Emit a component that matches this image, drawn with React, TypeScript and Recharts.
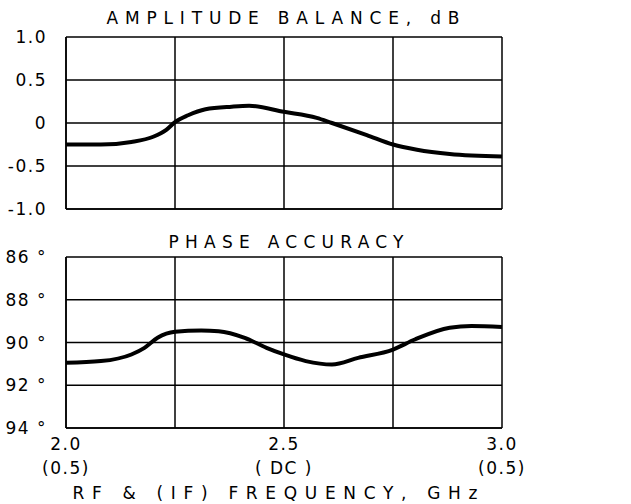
import React from "react"
import { LineChart, Line, XAxis, YAxis, CartesianGrid } from "recharts"

// amplitude balance (dB) vs frequency (GHz)
const AMP_FREQ = [2.0, 2.08, 2.15, 2.2, 2.23, 2.25, 2.28, 2.32, 2.38, 2.42, 2.5, 2.575, 2.61, 2.69, 2.75, 2.805, 2.88, 3.0]
const AMP_DB = [-0.25, -0.25, -0.22, -0.16, -0.08, 0.01, 0.09, 0.16, 0.19, 0.2, 0.13, 0.06, 0.0, -0.14, -0.25, -0.31, -0.36, -0.39]

// phase accuracy (deg) vs frequency (GHz)
const PHASE_FREQ = [2.0, 2.08, 2.15, 2.18, 2.21, 2.25, 2.31, 2.35, 2.41, 2.46, 2.5, 2.55, 2.61, 2.67, 2.75, 2.8, 2.88, 2.93, 3.0]
const PHASE_DEG = [90.95, 90.87, 90.56, 90.25, 89.78, 89.5, 89.44, 89.47, 89.78, 90.25, 90.56, 90.87, 91.03, 90.72, 90.33, 89.86, 89.31, 89.23, 89.28]

const FREQ_TICKS = [2, 2.25, 2.5, 2.75, 3]
const AMP_TICKS = [-1, -0.5, 0, 0.5, 1]
const PHASE_TICKS = [86, 88, 90, 92, 94]
const FREQ_LABELS: Record<string, [string, string]> = {
  "2": ["2.0", "(0.5)"],
  "2.5": ["2.5", "( DC )"],
  "3": ["3.0", "(0.5)"],
}

const FONT = "'DejaVu Sans', sans-serif"
const INK = "#000000"

const ampData = AMP_FREQ.map((f, i) => ({ f, v: AMP_DB[i] }))
const phaseData = PHASE_FREQ.map((f, i) => ({ f, v: PHASE_DEG[i] }))

const fmtAmp = (v: number) => (v === 0 ? "0" : v.toFixed(1))
const fmtPhase = (v: number) => `${v} °`

function YTick(props: any) {
  const { x, y, payload, fmt } = props
  return (
    <text x={x} y={y} dy={6} textAnchor="end" fontFamily={FONT} fontSize={17} letterSpacing={1.5} fill={INK}>
      {fmt(payload.value)}
    </text>
  )
}

function FreqTick(props: any) {
  const { x, y, payload } = props
  const lbl = FREQ_LABELS[String(payload.value)]
  if (!lbl) return <g />
  return (
    <g>
      <text x={x} y={y} dy={14} textAnchor="middle" fontFamily={FONT} fontSize={17} letterSpacing={1.5} fill={INK}>
        {lbl[0]}
      </text>
      <text x={x} y={y} dy={38} textAnchor="middle" fontFamily={FONT} fontSize={17} letterSpacing={1.5} fill={INK}>
        {lbl[1]}
      </text>
    </g>
  )
}

const NoTick = () => <g />

function Title({ x, y, w, children }: { x: number; y: number; w: number; children: string }) {
  return (
    <text
      x={x}
      y={y}
      textAnchor="middle"
      fontFamily={FONT}
      fontSize={17}
      textLength={w}
      lengthAdjust="spacing"
      fill={INK}
    >
      {children}
    </text>
  )
}

export default function App() {
  return (
    <div style={{ position: "absolute", top: 0, left: 0, width: 631, height: 504, background: "#fff" }}>
      {/* top panel */}
      <div style={{ position: "absolute", top: 0, left: 0 }}>
        <LineChart width={631} height={220} data={ampData} margin={{ top: 37, right: 129, bottom: 10, left: 6 }}>
          <CartesianGrid stroke={INK} strokeWidth={1.5} />
          <XAxis
            dataKey="f"
            type="number"
            domain={[2, 3]}
            ticks={FREQ_TICKS}
            interval={0}
            tick={<NoTick />}
            tickLine={false}
            axisLine={{ stroke: INK, strokeWidth: 1.5 }}
            height={1}
          />
          <YAxis
            type="number"
            domain={[-1, 1]}
            ticks={AMP_TICKS}
            width={60}
            tickLine={false}
            tickMargin={13}
            axisLine={{ stroke: INK, strokeWidth: 1.5 }}
            tick={<YTick fmt={fmtAmp} />}
          />
          <Line dataKey="v" type="monotone" stroke={INK} strokeWidth={4} dot={false} isAnimationActive={false} />
        </LineChart>
      </div>

      {/* bottom panel */}
      <div style={{ position: "absolute", top: 220, left: 0 }}>
        <LineChart width={631} height={284} data={phaseData} margin={{ top: 37, right: 129, bottom: 0, left: 6 }}>
          <CartesianGrid stroke={INK} strokeWidth={1.5} />
          <XAxis
            dataKey="f"
            type="number"
            domain={[2, 3]}
            ticks={FREQ_TICKS}
            tickLine={false}
            axisLine={{ stroke: INK, strokeWidth: 1.5 }}
            height={76}
            interval={0}
            tick={<FreqTick />}
          />
          <YAxis
            type="number"
            domain={[86, 94]}
            reversed
            ticks={PHASE_TICKS}
            width={60}
            tickLine={false}
            tickMargin={13}
            axisLine={{ stroke: INK, strokeWidth: 1.5 }}
            tick={<YTick fmt={fmtPhase} />}
          />
          <Line dataKey="v" type="monotone" stroke={INK} strokeWidth={4} dot={false} isAnimationActive={false} />
        </LineChart>
      </div>

      {/* titles and axis label */}
      <svg width={631} height={504} style={{ position: "absolute", top: 0, left: 0, pointerEvents: "none" }}>
        <Title x={283} y={24} w={353}>AMPLITUDE BALANCE, dB</Title>
        <Title x={286} y={248} w={235}>PHASE ACCURACY</Title>
        <Title x={275} y={499} w={405}>RF &amp; (IF) FREQUENCY, GHz</Title>
      </svg>
    </div>
  )
}
